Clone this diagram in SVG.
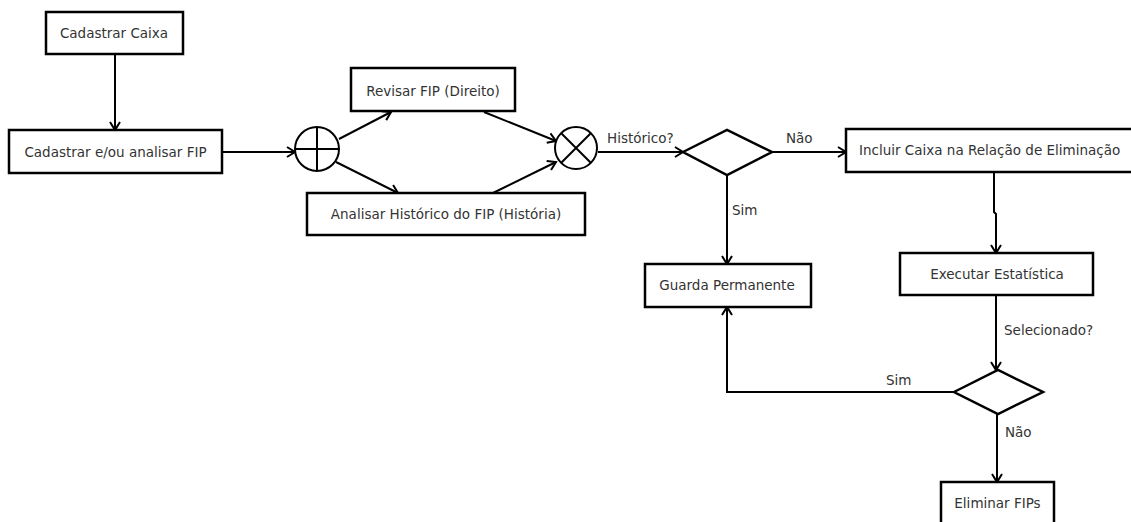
<svg xmlns="http://www.w3.org/2000/svg" width="1131" height="522" viewBox="0 0 1131 522">
<defs>
<marker id="arr" markerUnits="userSpaceOnUse" markerWidth="14" markerHeight="14" viewBox="-10 -7 12 14" refX="0" refY="0" orient="auto">
<path d="M-8,-5 L0,0 L-8,5" fill="none" stroke="#000" stroke-width="2"/>
</marker>
</defs>
<style>
.box{fill:#fff;stroke:#000;stroke-width:2.5}
.t{font-family:"DejaVu Sans",sans-serif;font-size:13.5px;fill:#333}
.m{text-anchor:middle}
.c{fill:none;stroke:#000;stroke-width:2}
.a{marker-end:url(#arr)}
</style>
<rect width="1131" height="522" fill="#fff"/>
<g id="connectors">
<path class="c a" d="M115,55 L115,130"/>
<path class="c a" d="M222,152 L295,152"/>
<path class="c a" d="M339,139 L391,112"/>
<path class="c a" d="M336,162 L398,193"/>
<path class="c a" d="M484,112 L556,141"/>
<path class="c a" d="M493,193 L556,162"/>
<path class="c a" d="M598,152 L683,152"/>
<path class="c a" d="M772,152 L846,152"/>
<path class="c a" d="M727,175 L727,264"/>
<path class="c a" d="M994,172 L994,212 L996,214 L996,253"/>
<path class="c a" d="M996,295 L996,370"/>
<path class="c a" d="M954,392 L727,392 L727,307"/>
<path class="c a" d="M997,414 L997,482"/>
<text class="t" x="607" y="143">Histórico?</text>
<text class="t" x="786" y="143">Não</text>
<text class="t" x="732" y="215">Sim</text>
<text class="t" x="1004" y="335">Selecionado?</text>
<text class="t" x="886" y="385">Sim</text>
<text class="t" x="1005" y="437">Não</text>
</g>
<g id="cadastrar-caixa">
<rect class="box" x="46" y="12" width="137" height="42"/>
<text class="t m" x="114" y="38">Cadastrar Caixa</text>
</g>
<g id="cadastrar-fip">
<rect class="box" x="9" y="130" width="213" height="43"/>
<text class="t m" x="115.5" y="157">Cadastrar e/ou analisar FIP</text>
</g>
<g id="split">
<circle cx="317" cy="149" r="22" fill="#fff" stroke="#000" stroke-width="2"/>
<path d="M317,127 L317,171 M295,149 L339,149" stroke="#000" stroke-width="2"/>
</g>
<g id="revisar">
<rect class="box" x="351" y="68" width="164" height="43"/>
<text class="t m" x="433" y="96">Revisar FIP (Direito)</text>
</g>
<g id="analisar">
<rect class="box" x="307" y="193" width="278" height="42"/>
<text class="t m" x="446" y="219">Analisar Histórico do FIP (História)</text>
</g>
<g id="join">
<circle cx="576" cy="148" r="21" fill="#fff" stroke="#000" stroke-width="2"/>
<path d="M561,133 L591,163 M591,133 L561,163" stroke="#000" stroke-width="2"/>
</g>
<g id="decisao-historico">
<polygon points="683,152 727,130 772,152 727,175" fill="#fff" stroke="#000" stroke-width="2.5"/>
</g>
<g id="incluir">
<rect class="box" x="846" y="129" width="300" height="43"/>
<text class="t" x="859" y="155">Incluir Caixa na Relação de Eliminação</text>
</g>
<g id="guarda">
<rect class="box" x="645" y="264" width="166" height="43"/>
<text class="t m" x="727" y="290">Guarda Permanente</text>
</g>
<g id="executar">
<rect class="box" x="900" y="253" width="193" height="42"/>
<text class="t m" x="997" y="279">Executar Estatística</text>
</g>
<g id="decisao-selecionado">
<polygon points="954,392 998,370 1043,392 998,414" fill="#fff" stroke="#000" stroke-width="2.5"/>
</g>
<g id="eliminar">
<rect class="box" x="941" y="482" width="113" height="50"/>
<text class="t m" x="997.5" y="508">Eliminar FIPs</text>
</g>
</svg>
